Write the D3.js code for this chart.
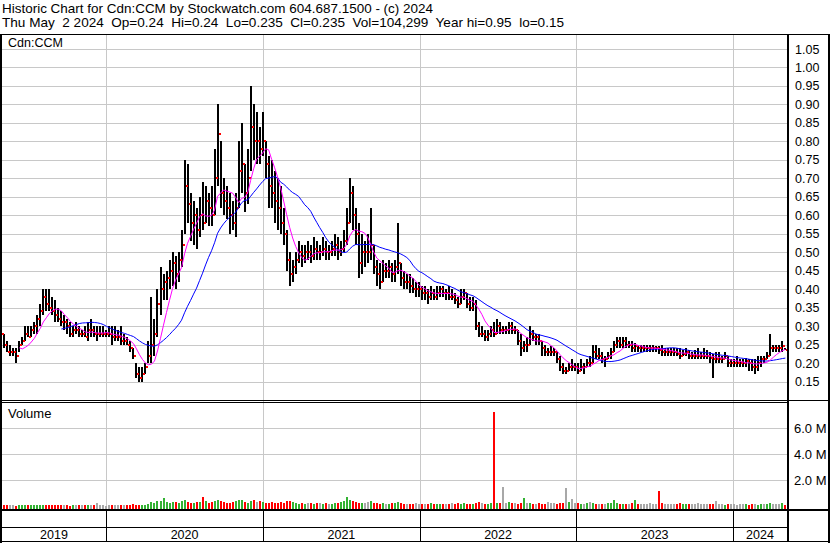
<!DOCTYPE html>
<html><head><meta charset="utf-8">
<script src="https://cdn.jsdelivr.net/npm/d3@7"></script>
<style>
html,body{margin:0;padding:0;background:#fff;}
svg{display:block;font-family:"Liberation Sans",Arial,sans-serif;}
text{white-space:pre;}
</style></head>
<body>
<svg id="chart" width="830" height="543"></svg>
<script>
// ---------------- DATA (weekly) ----------------
const firstWeek = "2019-05-02";
const titleLine1 = "Historic Chart for Cdn:CCM by Stockwatch.com 604.687.1500 - (c) 2024";
const titleLine2 = "Thu May  2 2024  Op=0.24  Hi=0.24  Lo=0.235  Cl=0.235  Vol=104,299  Year hi=0.95  lo=0.15";
const symbol = "Cdn:CCM";
const yearLabels = ["2019","2020","2021","2022","2023","2024"];
const priceTicks = [0.15,0.20,0.25,0.30,0.35,0.40,0.45,0.50,0.55,0.60,0.65,0.70,0.75,0.80,0.85,0.90,0.95,1.00,1.05];
const volumeTicks = [2e6,4e6,6e6];
const volumeTickLabels = ["2.0 M","4.0 M","6.0 M"];

const highs = [
.30,.28,.26,.25,.24,.24,.26,.27,.30,.30,
.30,.31,.33,.36,.40,.40,.40,.38,.37,.35,
.34,.33,.32,.31,.30,.31,.30,.29,.30,.31,
.32,.30,.30,.30,.30,.29,.30,.30,.30,.29,
.30,.28,.27,.26,.24,.20,.19,.19,.20,.26,
.38,.32,.40,.46,.44,.45,.48,.50,.49,.50,
.56,.75,.74,.66,.64,.62,.65,.69,.68,.66,
.68,.78,.90,.80,.70,.68,.66,.64,.66,.80,
.85,.74,.78,.95,.90,.88,.84,.88,.80,.76,
.75,.72,.70,.68,.62,.56,.50,.48,.50,.53,
.52,.52,.53,.52,.54,.53,.52,.54,.53,.52,
.53,.55,.54,.53,.56,.62,.70,.68,.62,.58,
.55,.53,.55,.62,.52,.48,.47,.48,.47,.48,
.47,.48,.58,.47,.45,.44,.44,.43,.42,.42,
.41,.41,.40,.41,.40,.41,.41,.41,.40,.41,
.40,.39,.38,.40,.40,.39,.38,.38,.37,.31,
.30,.29,.29,.30,.31,.32,.31,.30,.30,.31,
.31,.30,.29,.28,.26,.27,.30,.29,.28,.28,
.26,.25,.24,.245,.24,.23,.22,.20,.19,.20,
.21,.20,.20,.21,.20,.21,.22,.25,.25,.24,
.23,.22,.23,.24,.26,.27,.27,.27,.27,.26,
.26,.255,.25,.25,.25,.25,.25,.25,.245,.245,
.25,.24,.24,.24,.24,.24,.24,.235,.24,.235,
.23,.235,.24,.23,.24,.235,.23,.225,.23,.23,
.22,.23,.22,.21,.21,.22,.21,.21,.215,.21,
.21,.21,.22,.22,.22,.23,.28,.25,.25,.25,
.26,.24];

const lows = [
.27,.24,.23,.22,.22,.20,.23,.25,.26,.27,
.27,.28,.28,.30,.33,.34,.34,.33,.31,.31,
.30,.29,.28,.27,.27,.28,.27,.27,.27,.26,
.27,.27,.26,.27,.27,.27,.27,.25,.26,.26,
.25,.25,.25,.23,.21,.16,.15,.15,.17,.20,
.20,.22,.27,.33,.37,.37,.40,.41,.40,.42,
.46,.55,.58,.53,.52,.51,.54,.56,.58,.57,
.57,.60,.68,.62,.60,.59,.55,.56,.54,.62,
.66,.61,.63,.72,.75,.74,.74,.76,.70,.62,
.62,.58,.56,.55,.52,.45,.41,.42,.44,.47,
.46,.47,.48,.47,.48,.48,.48,.49,.48,.48,
.49,.49,.48,.49,.50,.52,.58,.56,.52,.43,
.44,.46,.47,.48,.44,.41,.40,.42,.43,.43,
.42,.42,.44,.41,.40,.40,.39,.39,.38,.38,
.37,.37,.36,.37,.37,.37,.38,.38,.37,.37,
.37,.36,.35,.36,.37,.35,.34,.34,.29,.27,
.27,.26,.26,.27,.27,.28,.28,.28,.28,.28,
.28,.28,.25,.22,.23,.23,.25,.26,.25,.25,
.22,.22,.22,.22,.22,.20,.18,.17,.17,.18,
.18,.18,.17,.18,.17,.19,.19,.20,.21,.21,
.20,.19,.21,.21,.23,.24,.24,.24,.24,.24,
.23,.23,.23,.23,.23,.23,.23,.23,.23,.225,
.22,.22,.22,.22,.22,.22,.21,.22,.22,.21,
.21,.21,.21,.21,.21,.21,.20,.16,.20,.20,
.20,.21,.19,.19,.19,.19,.19,.19,.19,.18,
.18,.17,.18,.19,.20,.21,.22,.23,.23,.23,
.23,.235];

const closes = [
.28,.25,.23,.23,.23,.22,.25,.26,.28,.27,
.29,.30,.32,.34,.38,.36,.35,.34,.33,.32,
.31,.31,.30,.28,.29,.29,.28,.28,.27,.29,
.29,.28,.28,.28,.28,.28,.28,.27,.27,.27,
.26,.26,.25,.24,.22,.17,.16,.17,.19,.22,
.25,.28,.36,.40,.42,.43,.45,.47,.44,.48,
.52,.68,.63,.58,.60,.56,.60,.58,.64,.62,
.60,.70,.82,.66,.64,.62,.60,.58,.62,.72,
.74,.66,.70,.84,.80,.80,.78,.80,.74,.68,
.66,.64,.62,.58,.55,.48,.44,.46,.48,.50,
.49,.50,.50,.49,.51,.50,.50,.51,.50,.50,
.51,.52,.50,.51,.53,.58,.66,.60,.55,.47,
.50,.50,.50,.52,.46,.44,.42,.45,.45,.46,
.44,.46,.47,.43,.42,.42,.41,.40,.40,.40,
.39,.39,.38,.39,.38,.39,.40,.39,.39,.38,
.38,.37,.36,.38,.39,.36,.35,.36,.30,.28,
.28,.27,.28,.29,.28,.30,.29,.29,.29,.30,
.29,.29,.26,.24,.25,.25,.28,.27,.27,.26,
.24,.23,.23,.23,.23,.21,.19,.18,.18,.19,
.19,.19,.18,.19,.19,.20,.20,.23,.22,.22,
.21,.21,.22,.23,.25,.26,.25,.26,.25,.25,
.24,.245,.24,.24,.24,.24,.24,.24,.24,.235,
.23,.23,.23,.23,.23,.225,.22,.225,.23,.22,
.22,.22,.22,.22,.22,.22,.215,.21,.21,.21,
.21,.22,.20,.20,.20,.20,.20,.20,.205,.20,
.19,.19,.20,.21,.21,.22,.24,.24,.24,.24,
.245,.235];

// peak daily volume in each week, thousands of shares
const volumesK = [
60,40,50,80,40,30,60,90,50,40,
70,50,40,60,90,80,50,40,60,50,
40,60,50,30,70,40,50,60,40,50,
60,40,200,50,40,30,50,40,60,50,
40,60,50,80,120,90,70,80,100,150,
300,250,350,400,650,300,250,280,300,200,
350,450,300,250,200,280,300,700,350,250,
300,400,450,350,300,250,200,300,400,450,
500,300,250,400,450,300,350,300,250,200,
300,250,200,300,250,350,400,300,200,150,
200,150,250,200,150,200,250,150,200,180,
150,200,250,300,350,720,500,400,300,250,
200,250,300,350,250,200,150,200,180,150,
200,250,300,200,150,180,120,150,200,160,
150,120,180,200,150,130,160,120,140,150,
200,180,250,150,200,150,120,180,250,300,
200,150,180,200,7200,250,200,1450,250,300,
200,250,180,200,600,250,200,150,180,200,
150,120,300,250,200,180,200,250,1400,300,
550,250,200,150,180,250,300,200,150,180,
120,150,200,250,450,200,180,150,120,150,
200,450,180,150,120,150,200,180,130,1150,
200,150,130,180,150,120,200,150,130,180,
150,120,200,150,130,180,120,150,400,150,
120,100,150,130,120,100,150,130,120,100,
150,120,100,130,150,120,200,150,120,180,
250,104];

const shortMAWeeks = 7;
const longMAWeeks = 21;

// ---------------- CHART ----------------
const svg = d3.select("#chart");
const W = 830, H = 543;
const plotL = 2, plotR = 787;
const priceTop = 34, priceBot = 401;
const volTop = 403, volBot = 509;
const axisRowTop = 510, labelRowTop = 527, frameBot = 542;

const parse = d3.timeParse("%Y-%m-%d");
const start = parse(firstWeek);
const data = closes.map((c, i) => ({
  date: d3.timeDay.offset(start, 7 * i),
  high: highs[i], low: lows[i], close: c,
  vol: volumesK[i] * 1000,
  dir: i === 0 ? 0 : Math.sign(Math.round((c - closes[i - 1]) * 1000))
}));

const x = d3.scaleTime()
  .domain([new Date(2020, 0, 1), new Date(2024, 0, 1)])
  .range([106, 733]);
const y = d3.scaleLinear().domain([0.15, 1.05]).range([381.6, 49]);
const yv = d3.scaleLinear().domain([0, 6e6]).range([506, 428]);

svg.append("rect").attr("width", W).attr("height", H).attr("fill", "#fff");

// header
svg.append("text").attr("x", 2).attr("y", 13).attr("font-size", 13).attr("fill", "#000")
  .attr("textLength", 431).attr("lengthAdjust", "spacingAndGlyphs").text(titleLine1);
svg.append("text").attr("x", 2).attr("y", 27).attr("font-size", 13).attr("fill", "#000")
  .attr("textLength", 562).attr("lengthAdjust", "spacingAndGlyphs").text(titleLine2);

const grid = svg.append("g").attr("stroke", "#c8c8c8").attr("stroke-width", 1).attr("shape-rendering", "crispEdges");
// horizontal price grid
grid.selectAll("line.hp").data(priceTicks).join("line")
  .attr("x1", plotL).attr("x2", plotR)
  .attr("y1", d => Math.round(y(d)) + 0.5).attr("y2", d => Math.round(y(d)) + 0.5);
// horizontal volume grid
grid.selectAll("line.hv").data(volumeTicks).join("line").attr("class", "hv")
  .attr("x1", plotL).attr("x2", plotR)
  .attr("y1", d => Math.round(yv(d)) + 0.5).attr("y2", d => Math.round(yv(d)) + 0.5);
// vertical year grid
const yearBounds = [2020, 2021, 2022, 2023, 2024].map(yr => new Date(yr, 0, 1));
grid.selectAll("line.vy").data(yearBounds).join("line").attr("class", "vy")
  .attr("x1", d => Math.round(x(d)) + 0.5).attr("x2", d => Math.round(x(d)) + 0.5)
  .attr("y1", priceTop).attr("y2", volBot);

// clip
const defs = svg.append("defs");
defs.append("clipPath").attr("id", "pc").append("rect")
  .attr("x", plotL).attr("y", priceTop).attr("width", plotR - plotL).attr("height", priceBot - priceTop);

const pg = svg.append("g").attr("clip-path", "url(#pc)").attr("shape-rendering", "crispEdges");
// price bars
pg.selectAll("rect.bar").data(data).join("rect").attr("class", "bar")
  .attr("x", d => Math.round(x(d.date)) - 1).attr("width", 2)
  .attr("y", d => Math.round(y(d.high)))
  .attr("height", d => Math.max(1, Math.round(y(d.low)) - Math.round(y(d.high))))
  .attr("fill", "#000");
// close ticks
pg.selectAll("rect.cl").data(data).join("rect").attr("class", "cl")
  .attr("x", d => Math.round(x(d.date)) + 1).attr("width", 2)
  .attr("y", d => Math.round(y(d.close)) - 1).attr("height", 2)
  .attr("fill", "#ff0000");

// moving averages
function sma(n) {
  return data.map((d, i) => i < n - 1 ? null :
    ({ date: d.date, v: d3.mean(closes.slice(i - n + 1, i + 1)) })).filter(d => d);
}
const line = d3.line().x(d => x(d.date)).y(d => y(d.v));
const mg = svg.append("g").attr("clip-path", "url(#pc)");
mg.append("path").datum(sma(longMAWeeks)).attr("d", line)
  .attr("fill", "none").attr("stroke", "#0000ff").attr("stroke-width", 1);
mg.append("path").datum(sma(shortMAWeeks)).attr("d", line)
  .attr("fill", "none").attr("stroke", "#ff00ff").attr("stroke-width", 1);

// volume bars
const vcol = d => d.dir > 0 ? "#33b233" : d.dir < 0 ? "#ff0000" : "#a8a8a8";
svg.append("g").attr("shape-rendering", "crispEdges")
  .selectAll("rect").data(data).join("rect")
  .attr("x", d => Math.round(x(d.date)) - 1).attr("width", 2)
  .attr("y", d => Math.min(volBot - 1, Math.round(yv(d.vol))))
  .attr("height", d => volBot - Math.min(volBot - 1, Math.round(yv(d.vol))))
  .attr("fill", vcol);

// labels inside panels
svg.append("text").attr("x", 8).attr("y", 47).attr("font-size", 12.5).attr("fill", "#000").text(symbol);
svg.append("text").attr("x", 8).attr("y", 418).attr("font-size", 13).attr("fill", "#000").text("Volume");

// right axis labels
svg.append("g").selectAll("text").data(priceTicks).join("text")
  .attr("x", 795).attr("y", d => y(d) + 4.5).attr("font-size", 12.5).attr("fill", "#000")
  .text(d => d.toFixed(2));
svg.append("g").selectAll("text").data(volumeTicks).join("text")
  .attr("x", 794).attr("y", d => yv(d) + 4.5).attr("font-size", 13).attr("fill", "#000")
  .text((d, i) => volumeTickLabels[i]);

// frame lines
const fr = svg.append("g").attr("stroke", "#000").attr("shape-rendering", "crispEdges");
fr.append("line").attr("x1", 0).attr("x2", W).attr("y1", 34.5).attr("y2", 34.5).attr("stroke-width", 1);
fr.append("line").attr("x1", 1).attr("x2", 1).attr("y1", 34).attr("y2", H).attr("stroke-width", 2);
fr.append("line").attr("x1", plotR + 1).attr("x2", plotR + 1).attr("y1", 34).attr("y2", frameBot).attr("stroke-width", 2);
fr.append("line").attr("x1", W - 1).attr("x2", W - 1).attr("y1", 34).attr("y2", H).attr("stroke-width", 2);
fr.append("line").attr("x1", 0).attr("x2", W).attr("y1", 400.5).attr("y2", 400.5).attr("stroke-width", 1);
fr.append("line").attr("x1", 0).attr("x2", plotR).attr("y1", 402.5).attr("y2", 402.5).attr("stroke-width", 1);
fr.append("line").attr("x1", 0).attr("x2", W).attr("y1", 510).attr("y2", 510).attr("stroke-width", 2);
fr.append("line").attr("x1", 0).attr("x2", plotR).attr("y1", 527.5).attr("y2", 527.5).attr("stroke-width", 1);
fr.append("line").attr("x1", 0).attr("x2", W).attr("y1", 541.5).attr("y2", 541.5).attr("stroke-width", 1.5);
// year separators in axis rows
fr.selectAll("line.ys").data(yearBounds).join("line").attr("class", "ys")
  .attr("x1", d => Math.round(x(d)) + 0.5).attr("x2", d => Math.round(x(d)) + 0.5)
  .attr("y1", axisRowTop).attr("y2", frameBot);

// year labels centered in each year segment
const segStarts = [new Date(2019, 0, 1)].concat(yearBounds);
svg.append("g").selectAll("text").data(yearLabels).join("text")
  .attr("x", (d, i) => {
    const a = Math.max(plotL, x(segStarts[i]));
    const b = i < yearBounds.length ? x(yearBounds[i]) : plotR;
    return (a + b) / 2;
  })
  .attr("y", 539).attr("text-anchor", "middle").attr("font-size", 12.5).attr("fill", "#000")
  .text(d => d);
</script>
</body></html>
